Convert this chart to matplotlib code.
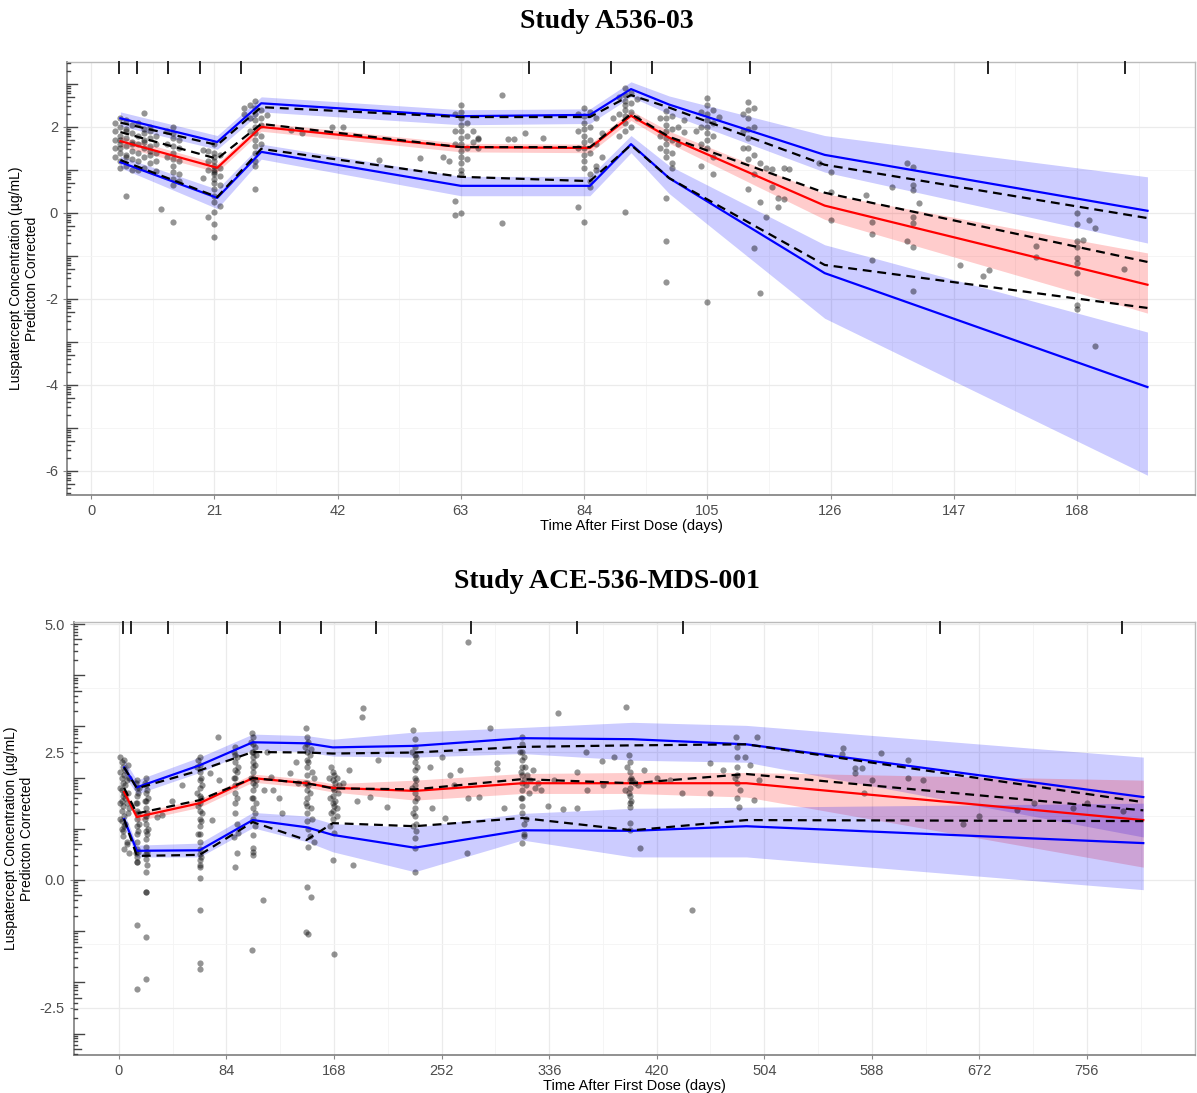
import matplotlib.pyplot as plt
from matplotlib.transforms import blended_transform_factory
import numpy as np

# ---------------- Study A536-03 (top) ----------------
top_t = [5, 21.5, 29, 63, 85, 92, 98.5, 125, 180]
top_sim_hi = [2.20, 1.65, 2.55, 2.25, 2.28, 2.88, 2.52, 1.35, 0.05]
top_sim_med = [1.67, 1.05, 2.00, 1.53, 1.51, 2.26, 1.75, 0.17, -1.67]
top_sim_lo = [1.18, 0.35, 1.42, 0.63, 0.63, 1.60, 0.81, -1.40, -4.05]
top_obs_hi = [2.10, 1.58, 2.46, 2.23, 2.23, 2.74, 2.45, 1.12, -0.12]
top_obs_med = [1.88, 1.26, 2.07, 1.53, 1.53, 2.30, 1.77, 0.47, -1.14]
top_obs_lo = [1.23, 0.37, 1.49, 0.84, 0.74, 1.58, 0.81, -1.21, -2.21]
# confidence ribbons (upper, median, lower percentile)
top_hi_band = ([2.35, 1.80, 2.70, 2.40, 2.42, 3.05, 2.72, 1.80, 0.84],
               [2.02, 1.48, 2.35, 2.05, 2.08, 2.70, 2.30, 0.95, -0.70])
top_med_band = ([1.78, 1.15, 2.10, 1.62, 1.60, 2.38, 1.90, 0.45, -0.93],
                [1.55, 0.95, 1.90, 1.42, 1.40, 2.15, 1.62, -0.15, -2.33])
top_lo_band = ([1.32, 0.55, 1.60, 0.85, 0.85, 1.80, 1.10, -0.74, -2.77],
               [1.05, 0.10, 1.25, 0.40, 0.40, 1.40, 0.45, -2.45, -6.10])
top_bins = [4.8, 7.8, 13.1, 18.6, 25.6, 46.5, 74.6, 88.6, 95.6, 112.3, 152.8, 176.2]

top_pt_t = [
    # days 4-7
    4, 4, 4, 4, 5, 5, 5, 5, 5, 5, 6, 6, 6, 6, 6, 6, 7, 7, 7, 7, 7, 7, 6, 5, 4, 7, 6, 5, 5, 6,
    # days 8-11
    8, 8, 8, 8, 8, 9, 9, 9, 9, 9, 9, 10, 10, 10, 10, 10, 10, 11, 11, 11, 11, 9, 10, 8, 9, 11,
    # days 12-15
    13, 13, 13, 14, 14, 14, 14, 14, 14, 14, 14, 14, 15, 15, 15, 15, 12, 14, 14, 15,
    # days 19-22
    20, 20, 21, 21, 21, 21, 21, 21, 21, 21, 21, 21, 21, 22, 22, 22, 22, 21, 20, 21, 21, 21, 22, 19, 19, 21, 20,
    # days 26-29
    27, 27, 27, 28, 28, 28, 28, 28, 28, 28, 28, 28, 29, 29, 29, 29, 29, 26, 26, 28, 28, 28,
    # sparse 30-77
    30, 34, 36, 41, 43, 49, 56, 66, 70, 70, 71, 72, 77, 60, 74,
    # days 61-66
    62, 62, 62, 63, 63, 63, 63, 63, 63, 63, 63, 63, 63, 63, 64, 64, 64, 64, 65, 65, 61, 62, 63, 66, 66, 63, 62,
    # days 83-87
    83, 83, 83, 84, 84, 84, 84, 84, 84, 84, 84, 84, 84, 85, 85, 85, 85, 85, 85, 86, 86, 86, 87, 87, 83, 84, 85, 86,
    # days 89-93
    90, 90, 91, 91, 91, 91, 91, 91, 91, 91, 92, 92, 92, 92, 93, 93, 89, 91, 90,
    # days 97-101
    97, 97, 97, 98, 98, 98, 98, 98, 98, 98, 98, 99, 99, 99, 99, 99, 100, 100, 101, 101, 98, 98, 98, 99,
    # days 103-107
    104, 104, 104, 105, 105, 105, 105, 105, 105, 105, 105, 106, 106, 106, 106, 107, 103, 105, 104, 106,
    # days 110-118
    111, 111, 111, 112, 112, 112, 112, 112, 112, 112, 113, 113, 113, 114, 114, 115, 115, 116, 116, 117, 117, 118,
    113, 114, 112, 113,
    # late
    124, 126, 126, 126, 119, 118, 132, 133, 133, 133, 136.5, 139, 140, 140, 140, 141, 140, 140, 139, 140, 140,
    148, 152, 153, 161, 161, 168, 168, 168, 168, 168, 168, 168, 168, 168, 169, 170, 171, 171, 176,
]
top_pt_y = [
    1.9, 1.7, 1.5, 2.1, 2.2, 1.8, 1.6, 1.4, 1.2, 2.0, 1.75, 1.55, 1.35, 1.95, 2.15, 1.1, 1.65, 1.85, 1.45, 1.25,
    2.05, 1.0, 0.4, 1.7, 1.3, 1.6, 1.9, 1.5, 1.05, 1.3,
    2.1, 1.8, 1.6, 1.4, 1.2, 2.33, 1.95, 1.7, 1.5, 1.3, 1.05, 2.0, 1.75, 1.55, 1.35, 1.15, 1.9, 1.8, 1.6, 1.4,
    1.2, 1.65, 1.45, 1.0, 1.85, 0.97,
    1.9, 1.6, 1.3, 2.0, 1.75, 1.55, 1.4, 1.25, 1.1, 0.95, 0.8, 0.65, 1.7, 1.5, 1.2, 0.9, 0.1, -0.2, 1.85, 0.75,
    1.45, 1.2, 1.6, 1.4, 1.3, 1.2, 1.1, 1.0, 0.9, 0.8, 0.7, 0.55, 0.4, 1.35, 1.05, 0.85, 0.65, -0.26, -0.1,
    -0.55, 0.02, 0.25, 0.15, 0.81, 1.47, 0.95, 1.0,
    2.5, 2.2, 1.9, 2.6, 2.45, 2.3, 2.15, 2.0, 1.85, 1.7, 1.55, 1.4, 2.4, 2.2, 2.05, 1.8, 1.6, 2.45, 2.3, 1.2,
    0.55, 1.1,
    2.28, 1.93, 1.86, 2.0, 2.0, 1.23, 1.28, 1.72, 2.74, -0.24, 1.72, 1.72, 1.74, 1.3, 1.85,
    2.3, 1.9, 1.6, 2.5, 2.35, 2.2, 2.05, 1.9, 1.75, 1.6, 1.45, 1.3, 1.15, 1.0, 2.1, 1.8, 1.5, 1.25, 1.9, 1.65,
    1.2, 0.28, 0.0, 1.75, 1.5, 0.9, -0.05,
    2.3, 1.9, 1.5, 2.44, 2.25, 2.1, 1.95, 1.8, 1.65, 1.5, 1.35, 1.2, 1.05, 2.35, 2.0, 1.7, 1.4, 0.9, 0.6, 2.2,
    1.6, 1.1, 1.85, 1.3, 0.14, -0.21, 0.75, 1.0,
    2.7, 2.3, 2.9, 2.75, 2.6, 2.5, 2.4, 2.25, 2.1, 1.9, 2.8, 2.55, 2.35, 2.0, 2.65, 2.2, 2.2, 0.02, 1.8,
    2.2, 1.8, 1.5, 2.36, 2.2, 2.05, 1.9, 1.75, 1.6, 1.45, 1.3, 2.25, 1.95, 1.7, 1.4, 1.15, 2.0, 1.6, 2.17, 1.88,
    0.34, -0.66, -1.61, 1.05,
    2.35, 2.0, 1.6, 2.67, 2.5, 2.3, 2.15, 2.0, 1.85, 1.7, 1.5, 2.4, 2.1, 1.8, 1.3, 2.23, 1.9, -2.06, 1.1, 0.9,
    2.3, 1.9, 1.5, 2.58, 2.4, 2.2, 1.95, 1.75, 1.5, 1.25, 2.0, 1.35, 0.9, 1.16, 0.25, -0.1, 1.05, 1.02, 0.6,
    0.14, 0.35, 1.05, -0.82, -1.86, 0.55, 2.45,
    1.16, 0.95, 0.49, -0.16, 1.02, 0.33, 0.42, -0.21, -0.49, -1.09, 0.60, 1.16, 1.07, 0.65, 0.53, 0.23, -0.09,
    -0.23, -0.65, -0.79, -1.81, -1.21, -1.46, -1.33, -0.77, -1.02, 0.0, -0.26, -0.65, -0.79, -1.05, -1.16,
    -1.40, -2.14, -2.23, -0.63, -0.16, -0.35, -3.09, -1.30,
]

# ---------------- Study ACE-536-MDS-001 (bottom) ----------------
bot_t = [4, 14, 63, 104.5, 146.5, 167, 231, 315, 401, 490, 800]
bot_sim_hi = [2.20, 1.81, 2.24, 2.69, 2.67, 2.59, 2.62, 2.77, 2.75, 2.65, 1.62]
bot_sim_med = [1.72, 1.23, 1.50, 1.99, 1.89, 1.80, 1.74, 1.89, 1.89, 1.89, 1.17]
bot_sim_lo = [1.19, 0.57, 0.58, 1.17, 1.03, 0.88, 0.63, 0.97, 0.96, 1.05, 0.72]
bot_obs_hi = [2.20, 1.79, 2.14, 2.50, 2.49, 2.47, 2.49, 2.60, 2.63, 2.65, 1.52]
bot_obs_med = [1.80, 1.30, 1.56, 1.99, 1.89, 1.79, 1.77, 1.97, 1.89, 2.07, 1.36]
bot_obs_lo = [1.19, 0.47, 0.49, 1.13, 0.78, 1.11, 1.05, 1.21, 0.97, 1.17, 1.15]
bot_hi_band = ([2.35, 1.95, 2.40, 2.85, 2.82, 2.75, 2.89, 2.98, 3.08, 3.02, 2.40],
               [2.05, 1.68, 2.10, 2.55, 2.50, 2.42, 2.40, 2.47, 2.34, 2.30, 0.84])
bot_med_band = ([1.80, 1.31, 1.58, 2.07, 1.97, 1.88, 1.95, 2.08, 2.10, 2.10, 1.95],
                [1.64, 1.15, 1.42, 1.91, 1.81, 1.72, 1.56, 1.69, 1.69, 1.62, 0.25])
bot_lo_band = ([1.32, 0.68, 0.72, 1.32, 1.25, 1.10, 1.03, 1.30, 1.40, 1.42, 1.50],
               [1.05, 0.45, 0.45, 1.02, 0.75, 0.55, 0.16, 0.78, 0.45, 0.45, -0.19])
bot_bins = [3.1, 9.4, 38.2, 84.2, 125.6, 157.6, 200.5, 274.6, 358, 440.7, 641, 783]

bot_pt_t = [
    # days 1-8
    1, 1, 1, 1, 1, 2, 2, 2, 2, 2, 2, 3, 3, 3, 3, 3, 4, 4, 4, 4, 4, 5, 5, 5, 5, 6, 6, 6, 7, 7, 7, 8, 8, 8,
    2, 3, 4, 6,
    # day 14
    13, 13, 14, 14, 14, 14, 14, 14, 14, 14, 14, 14, 14, 14, 15, 15, 15, 15, 16, 16, 14, 14, 14, 13,
    # day 21
    20, 20, 21, 21, 21, 21, 21, 21, 21, 21, 21, 21, 21, 21, 22, 22, 22, 22, 23, 23, 21, 21, 21, 21, 21, 22, 20,
    # sparse 30-50
    29.5, 34, 41.6, 49,
    # day 63
    61, 61, 62, 62, 63, 63, 63, 63, 63, 63, 63, 63, 63, 63, 63, 63, 63, 64, 64, 64, 64, 65, 65, 62, 63, 63,
    63, 63, 63, 63, 63, 63,
    # sparse 70-80
    71, 77.5, 72.5, 78,
    # day 92
    90, 90, 91, 91, 91, 91, 91, 91, 91, 91, 91, 92, 92, 92, 92, 93, 93, 90, 91, 92,
    # day 105
    103, 103, 104, 104, 104, 105, 105, 105, 105, 105, 105, 105, 105, 105, 105, 105, 105, 105, 106, 106, 106,
    106, 107, 107, 107, 105, 105, 105, 105, 104, 106,
    # sparse 110-140
    112.5, 120, 127, 115.5, 133.5, 113, 119, 125, 138, 140,
    # day 148
    145, 145, 146, 146, 147, 147, 147, 147, 147, 147, 147, 147, 147, 147, 147, 147, 148, 148, 148, 148, 148,
    149, 149, 149, 150, 150, 151, 151, 152, 152, 147, 148, 146, 150,
    # day 168
    164, 165, 166, 166, 167, 167, 167, 167, 167, 167, 167, 168, 168, 168, 168, 169, 169, 170, 170, 171, 172,
    167, 168, 165, 170,
    # sparse 175-215
    182.6, 189.5, 190.5, 202, 196, 209, 175, 186, 180,
    # day 231
    229, 229, 230, 230, 231, 231, 231, 231, 231, 231, 231, 231, 231, 231, 231, 232, 232, 232, 232, 233, 233,
    231, 231, 231, 230,
    # sparse 240-300
    243, 252, 258.5, 266, 273, 281, 290, 295, 295, 300.7, 272, 254.6, 244.5, 273, 262,
    # day 315
    313, 314, 314, 315, 315, 315, 315, 315, 315, 315, 315, 315, 315, 315, 316, 316, 316, 316, 317, 318, 319,
    320, 321, 323, 325, 327, 330, 315, 316, 318,
    # sparse 330-396
    342.9, 346.8, 357.7, 357.7, 365.5, 364.7, 377, 387, 396, 378, 335, 340,
    # day 399
    397, 398, 398, 399, 399, 399, 399, 399, 399, 399, 400, 400, 401, 403, 405, 407, 410, 395, 399, 399,
    # sparse 420-472
    461.6, 461.6, 471.7, 447.5, 430, 420, 440,
    # day 483
    481, 482, 483, 483, 483, 483, 483, 483, 484, 485, 489, 493, 496, 498, 500,
    # late
    565.5, 565, 575, 575, 580, 582, 588.5, 595, 616, 616, 628, 659, 672, 701, 715, 745, 756, 784,
]
bot_pt_y = [
    2.4, 2.1, 1.8, 1.5, 1.2, 2.3, 2.0, 1.75, 1.55, 1.35, 1.0, 2.2, 1.9, 1.65, 1.45, 0.85, 2.35, 2.05, 1.7, 1.25,
    0.6, 2.15, 1.85, 1.6, 1.1, 1.95, 1.5, 0.75, 2.25, 1.7, 1.3, 2.0, 1.4, 0.53, 1.15, 0.95, 1.05, 0.7,
    1.9, 1.5, 1.95, 1.8, 1.65, 1.5, 1.35, 1.2, 1.05, 0.9, 0.75, 0.6, 0.45, 0.35, 1.7, 1.3, 0.95, 0.55, 1.8, 1.1,
    0.35, -0.88, -2.13, 0.53,
    1.9, 1.55, 2.0, 1.85, 1.7, 1.55, 1.4, 1.25, 1.1, 0.95, 0.8, 0.65, 0.5, 0.4, 1.75, 1.3, 0.9, 0.55, 1.6, 1.0,
    0.16, -0.23, -1.93, -1.11, -0.23, 0.3, 1.2,
    1.23, 1.27, 1.54, 1.85,
    2.2, 1.7, 2.35, 1.45, 2.4, 2.25, 2.1, 1.95, 1.8, 1.65, 1.5, 1.35, 1.2, 1.05, 0.9, 0.75, 0.6, 2.0, 1.6, 1.15,
    0.45, 1.85, 1.3, 0.9, 0.25, 0.39, 0.29, 0.04, -0.59, -1.62, -1.74, 0.5,
    2.09, 2.80, 1.17, 1.95,
    2.5, 2.0, 2.6, 2.45, 2.3, 2.15, 2.0, 1.85, 1.7, 1.5, 1.3, 2.4, 2.1, 1.6, 1.1, 2.2, 0.92, 0.84, 0.26, 0.52,
    2.7, 2.0, 2.87, 2.5, 1.6, 2.8, 2.65, 2.5, 2.4, 2.3, 2.2, 2.1, 2.0, 1.9, 1.75, 1.6, 1.4, 1.2, 2.6, 2.25, 1.85,
    1.05, 2.45, 1.95, 1.5, 0.88, 0.62, 0.49, 0.55, -1.37, 1.3,
    -0.39, 1.76, 1.31, 2.5, 2.09, 1.76, 2.01, 1.6, 2.3, 1.9,
    2.6, 1.9, 2.97, 1.5, 2.8, 2.65, 2.5, 2.35, 2.2, 2.05, 1.9, 1.75, 1.6, 1.45, 1.3, 1.15, 2.7, 2.3, 1.85, 1.0,
    0.64, 2.45, 1.7, 0.85, 2.55, 1.4, 2.1, 1.2, 2.0, 0.75, -0.13, -1.06, -1.02, -0.33,
    2.0, 1.6, 2.21, 1.3, 2.1, 1.95, 1.8, 1.65, 1.5, 1.35, 1.2, 2.05, 1.75, 1.45, 0.92, 1.9, 1.55, 2.0, 1.25, 1.7,
    1.85, 0.39, -1.45, 1.05, 1.4,
    0.29, 3.18, 3.36, 2.34, 1.62, 1.43, 1.9, 1.55, 2.15,
    2.5, 1.8, 2.93, 1.3, 2.75, 2.6, 2.45, 2.3, 2.15, 2.0, 1.85, 1.7, 1.55, 1.4, 1.25, 2.4, 1.95, 1.1, 0.95, 2.2,
    1.6, 0.82, 0.16, 0.62, 1.05,
    2.2, 2.4, 2.05, 2.15, 1.6, 1.62, 2.97, 2.29, 2.17, 1.4, 0.53, 1.21, 1.4, 4.65, 1.85,
    2.5, 2.1, 1.6, 2.8, 2.65, 2.5, 2.35, 2.2, 2.05, 1.9, 1.75, 1.6, 1.45, 1.3, 2.4, 1.95, 1.1, 0.9, 2.2, 1.85,
    2.05, 1.7, 1.95, 2.15, 1.8, 1.9, 1.75, 0.72, 0.85, 1.2,
    3.26, 1.38, 1.4, 2.11, 1.76, 2.5, 2.32, 2.4, 3.38, 1.85, 1.45, 1.95,
    2.2, 2.44, 1.7, 2.3, 2.1, 1.95, 1.8, 1.65, 1.5, 0.98, 2.0, 1.55, 1.95, 1.9, 1.85, 0.62, 2.15, 1.75, 1.43, 1.12,
    2.29, 1.69, 2.15, -0.58, 1.95, 2.0, 1.7,
    2.0, 2.8, 2.6, 2.4, 2.2, 2.05, 1.9, 1.6, 1.43, 1.75, 2.4, 2.25, 1.56, 2.8, 1.95,
    2.57, 2.46, 2.19, 2.08, 2.19, 1.70, 1.95, 2.48, 2.34, 1.99, 1.95, 1.09, 1.25, 1.37, 1.50, 1.41, 1.50, 1.35,
]

YLAB = "Luspatercept Concentration (\u00b5g/mL)\nPredicton Corrected"
SANS = ["Liberation Sans", "DejaVu Sans"]


def draw_panel(ax, t, bands, sim, obs, pt_t, pt_y, bins, xlim, ylim, xticks, yticks, ylabels):
    ax.set_xlim(xlim)
    ax.set_ylim(ylim)

    # grid
    ax.set_xticks(xticks)
    ax.set_xticks([(a + b) / 2 for a, b in zip(xticks[:-1], xticks[1:])] + [xticks[-1] + (xticks[1] - xticks[0]) / 2], minor=True)
    ax.set_yticks(yticks)
    ax.set_yticklabels(ylabels)
    ax.set_yticks([(a + b) / 2 for a, b in zip(yticks[:-1], yticks[1:])], minor=True)
    ax.grid(which="major", color="#EBEBEB", lw=0.9)
    ax.grid(which="minor", color="#F4F4F4", lw=0.6)
    ax.set_axisbelow(True)

    # ribbons
    for (hi, lo), col in zip(bands, ["blue", "red", "blue"]):
        ax.fill_between(t, lo, hi, color=col, alpha=0.2, lw=0)

    ax.scatter(pt_t, pt_y, s=20, color="black", alpha=0.42, lw=0, zorder=3)

    for line, col in zip(sim, ["blue", "red", "blue"]):
        ax.plot(t, line, color=col, lw=1.6, zorder=4)
    for line in obs:
        ax.plot(t, line, color="black", lw=1.6, ls=(0, (4, 2.6)), zorder=5)

    # bin separators along the top
    trx = blended_transform_factory(ax.transData, ax.transAxes)
    for b in bins:
        ax.plot([b, b], [1.0, 0.975], color="#222222", lw=1.4, transform=trx, clip_on=False, zorder=6)

    # log ticks on the left side
    trl = blended_transform_factory(ax.transAxes, ax.transData)
    for n in range(int(np.floor(ylim[0])) - 1, int(np.ceil(ylim[1])) + 1):
        for k in range(1, 10):
            pos = n + np.log10(k)
            if pos < ylim[0] or pos > ylim[1]:
                continue
            ln = 0.009 if k == 1 else (0.006 if k == 5 else 0.003)
            ax.plot([0, ln], [pos, pos], color="#444444", lw=1.0, transform=trl, clip_on=False, zorder=6)

    for side in ["left", "bottom"]:
        ax.spines[side].set_color("#888888")
        ax.spines[side].set_linewidth(1.3)
    for side in ["top", "right"]:
        ax.spines[side].set_color("#BBBBBB")
        ax.spines[side].set_linewidth(1.0)
    ax.tick_params(which="major", length=3, color="#888888", labelcolor="#4D4D4D", labelsize=10.5)
    ax.tick_params(which="minor", length=0)
    for lab in ax.get_xticklabels() + ax.get_yticklabels():
        lab.set_family(SANS)

    ax.set_xlabel("Time After First Dose (days)", fontsize=10.5, family=SANS, labelpad=1)
    ax.set_ylabel(YLAB, fontsize=10, family=SANS, labelpad=4)


fig = plt.figure(figsize=(11.97, 10.93), dpi=100)

ax1 = fig.add_axes([67 / 1197, 1 - 495 / 1093, (1195 - 67) / 1197, 433 / 1093])
draw_panel(ax1, top_t,
           [top_hi_band, top_med_band, top_lo_band],
           [top_sim_hi, top_sim_med, top_sim_lo],
           [top_obs_hi, top_obs_med, top_obs_lo],
           top_pt_t, top_pt_y, top_bins,
           (-4.1, 188.1), (-6.56, 3.51),
           [0, 21, 42, 63, 84, 105, 126, 147, 168],
           [-6, -4, -2, 0, 2], ["-6", "-4", "-2", "0", "2"])

ax2 = fig.add_axes([74 / 1197, 1 - 1055 / 1093, (1195 - 74) / 1197, 433 / 1093])
draw_panel(ax2, bot_t,
           [bot_hi_band, bot_med_band, bot_lo_band],
           [bot_sim_hi, bot_sim_med, bot_sim_lo],
           [bot_obs_hi, bot_obs_med, bot_obs_lo],
           bot_pt_t, bot_pt_y, bot_bins,
           (-35.1, 840.4), (-3.42, 5.04),
           [0, 84, 168, 252, 336, 420, 504, 588, 672, 756],
           [-2.5, 0.0, 2.5, 5.0], ["-2.5", "0.0", "2.5", "5.0"])

fig.text(607 / 1197, 1 - 22 / 1093, "Study A536-03", ha="center", va="center",
         fontsize=20, fontweight="bold", family=["Liberation Serif", "DejaVu Serif"])
fig.text(607 / 1197, 1 - 581 / 1093, "Study ACE-536-MDS-001", ha="center", va="center",
         fontsize=20, fontweight="bold", family=["Liberation Serif", "DejaVu Serif"])

fig.savefig("out.png", dpi=100)
